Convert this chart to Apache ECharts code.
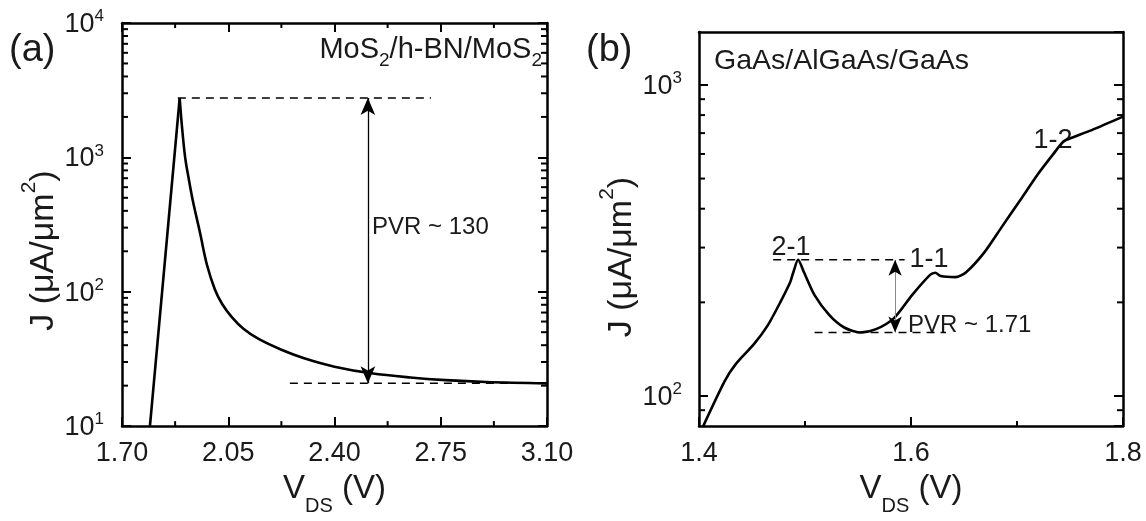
<!DOCTYPE html>
<html>
<head>
<meta charset="utf-8">
<script src="https://cdn.jsdelivr.net/npm/echarts@6/dist/echarts.min.js"></script>
<style>
html,body{margin:0;padding:0;background:#fff;}
#main{width:1146px;height:521px;}
</style>
</head>
<body>
<div id="main"></div>
<script>
// (a) MoS2/h-BN/MoS2 : V_DS (V) vs J (uA/um^2)
var vA = [1.792, 1.890, 1.897, 1.908, 1.920, 1.933, 1.957, 1.980, 2.006, 2.030, 2.061, 2.100, 2.150, 2.225, 2.300, 2.400, 2.522, 2.650, 2.766, 2.900, 3.100];
var jA = [10, 2760, 1750, 1000, 690, 480, 275, 158, 104, 81, 65, 53, 44.5, 37, 32, 27.7, 24.7, 23.0, 22.0, 21.3, 20.8];
var xTicksA = ['1.70', '2.05', '2.40', '2.75', '3.10'];
var xMinorA = [1.875, 2.225, 2.575, 2.925];
var peakA = 2760, valleyA = 20.8;
var peakLineA = [1.884, 2.718];   // x extent of dashed peak line
var valleyLineA = [2.253, 3.10];
var arrowXA = 2.51;

// (b) GaAs/AlGaAs/GaAs
var vB = [1.404, 1.4245, 1.435, 1.452, 1.465, 1.477, 1.486, 1.489, 1.4935, 1.499, 1.509, 1.523, 1.537, 1.552, 1.567, 1.584, 1.601, 1.618, 1.623, 1.628, 1.642, 1.652, 1.669, 1.686, 1.703, 1.720, 1.734, 1.744, 1.751, 1.771, 1.800];
var jB = [80, 112, 127, 147, 169, 201, 232, 250, 274, 250, 211, 182, 166, 160, 164, 178, 211, 245, 249, 243, 241, 250, 289, 351, 426, 518, 598, 659, 675, 717, 791];
var xMinorB = [1.5, 1.7];
var peakB = 274, valleyB = 160;
var peakLineB = [1.470, 1.594];
var valleyLineB = [1.509, 1.633];
var arrowXB = 1.585;

var X0 = 1.70; // panel (a) x axis is drawn from 0 so ticks land on 1.70 + k*0.35
var FONT = '"Liberation Sans", Arial, Helvetica, sans-serif';
var INK = '#1a1a1a';

var chart = echarts.init(document.getElementById('main'));

function pairs(xs, ys, dx, from, to) {
  var out = [];
  for (var i = from; i < to; i++) out.push([xs[i] - dx, ys[i]]);
  return out;
}

// minor ticks 2..9 of each decade inside [lo, hi]
function logMinor(lo, hi) {
  var out = [];
  for (var d = 1; d <= 10000; d *= 10) {
    for (var k = 2; k <= 9; k++) {
      var v = k * d;
      if (v > lo && v < hi) out.push(v);
    }
  }
  return out;
}

function supLabel(v) {
  var e = Math.log(v) / Math.LN10;
  if (Math.abs(e - Math.round(e)) > 1e-6) return '';
  return '{m|10}{s|' + Math.round(e) + '}';
}

var supRich = {
  m: {fontSize: 27, lineHeight: 30, fontFamily: FONT, color: INK, verticalAlign: 'top', padding: [3, 0, 0, 0]},
  s: {fontSize: 17, lineHeight: 17, fontFamily: FONT, color: INK, verticalAlign: 'top'}
};
var yNameRich = {
  m: {fontSize: 34, lineHeight: 36, fontFamily: FONT, color: INK, verticalAlign: 'top', padding: [8, 0, 0, 0]},
  s: {fontSize: 21, lineHeight: 21, fontFamily: FONT, color: INK, verticalAlign: 'top'}
};
var xNameRich = {
  m: {fontSize: 33, lineHeight: 36, fontFamily: FONT, color: INK, verticalAlign: 'top'},
  d: {fontSize: 20, lineHeight: 20, fontFamily: FONT, color: INK, verticalAlign: 'top', padding: [24, 0, 0, 0]}
};

function frameAxis(extra) {
  var base = {
    axisLine: {show: true, onZero: false, lineStyle: {color: '#000', width: 2.5}},
    axisTick: {show: true, inside: true, length: 9, lineStyle: {color: '#000', width: 2}},
    splitLine: {show: false},
    axisLabel: {show: false}
  };
  for (var k in extra) base[k] = extra[k];
  return base;
}

var dashStyle = {color: '#000', width: 1.5, type: [8, 6]};

var option = {
  animation: false,
  backgroundColor: '#fff',
  grid: [
    {left: 122, top: 23, width: 425, height: 404},
    {left: 699, top: 32, width: 424, height: 401}
  ],
  xAxis: [
    frameAxis({
      type: 'value', gridIndex: 0, position: 'bottom', min: 0, max: 1.4, interval: 0.35,
      axisLabel: {show: true, margin: 14, fontSize: 27, fontFamily: FONT, color: INK,
        formatter: function (v) { return xTicksA[Math.round(v / 0.35)]; }},
      name: '{m|V}{d|DS}{m| (V)}', nameLocation: 'middle', nameGap: 34,
      nameTextStyle: {rich: xNameRich}
    }),
    frameAxis({type: 'value', gridIndex: 0, position: 'top', min: 0, max: 1.4, interval: 0.35}),
    frameAxis({
      type: 'value', gridIndex: 1, position: 'bottom', min: 1.4, max: 1.8, interval: 0.2,
      axisLabel: {show: true, margin: 14, fontSize: 27, fontFamily: FONT, color: INK,
        formatter: function (v) { return v.toFixed(1); }},
      name: '{m|V}{d|DS}{m| (V)}', nameLocation: 'middle', nameGap: 35,
      nameTextStyle: {rich: xNameRich}
    }),
    frameAxis({
      type: 'value', gridIndex: 1, position: 'top', min: 1.4, max: 1.8, interval: 0.2,
      axisTick: {show: false}
    })
  ],
  yAxis: [
    frameAxis({
      type: 'log', logBase: 10, gridIndex: 0, position: 'left', min: 10, max: 10000,
      axisLabel: {show: true, margin: 18, formatter: supLabel, rich: supRich},
      name: '{m|J (μA/μm}{s|2}{m|)}', nameLocation: 'middle', nameGap: 50,
      nameTextStyle: {rich: yNameRich, padding: [0, 52, 0, 0]}
    }),
    frameAxis({type: 'log', logBase: 10, gridIndex: 0, position: 'right', min: 10, max: 10000}),
    frameAxis({
      type: 'log', logBase: 10, gridIndex: 1, position: 'left', min: 80, max: 1480,
      axisLabel: {show: true, margin: 17, formatter: supLabel, rich: supRich, showMinLabel: false, showMaxLabel: false},
      name: '{m|J (μA/μm}{s|2}{m|)}', nameLocation: 'middle', nameGap: 52,
      nameTextStyle: {rich: yNameRich, padding: [0, 56, 0, 0]}
    }),
    frameAxis({type: 'log', logBase: 10, gridIndex: 1, position: 'right', min: 80, max: 1480})
  ],
  series: [
    {
      // straight rise up to the peak
      type: 'line', xAxisIndex: 0, yAxisIndex: 0, data: pairs(vA, jA, X0, 0, 2),
      symbol: 'none', z: 3, lineStyle: {color: '#000', width: 2.6}
    },
    {
      // decay after the peak
      type: 'line', xAxisIndex: 0, yAxisIndex: 0, data: pairs(vA, jA, X0, 1, vA.length),
      symbol: 'none', z: 3, smooth: 0.35,
      lineStyle: {color: '#000', width: 2.6}
    },
    {
      type: 'line', xAxisIndex: 0, yAxisIndex: 0, symbol: 'none', z: 2,
      data: [[peakLineA[0] - X0, peakA], [peakLineA[1] - X0, peakA]], lineStyle: dashStyle
    },
    {
      type: 'line', xAxisIndex: 0, yAxisIndex: 0, symbol: 'none', z: 2,
      data: [[valleyLineA[0] - X0, valleyA], [valleyLineA[1] - X0, valleyA]], lineStyle: dashStyle,
      markLine: {
        silent: true, symbol: ['arrow', 'arrow'], symbolSize: [11, 17],
        label: {show: false},
        lineStyle: {color: '#000', width: 1.3, type: 'solid'},
        data: [[{coord: [arrowXA - X0, peakA]}, {coord: [arrowXA - X0, valleyA]}]]
      }
    },
    {
      type: 'line', xAxisIndex: 2, yAxisIndex: 2, data: pairs(vB, jB, 0, 0, vB.length),
      symbol: 'none', z: 3, smooth: 0.25,
      lineStyle: {color: '#000', width: 2.6}
    },
    {
      type: 'line', xAxisIndex: 2, yAxisIndex: 2, symbol: 'none', z: 2,
      data: [[peakLineB[0], peakB], [peakLineB[1], peakB]], lineStyle: dashStyle
    },
    {
      type: 'line', xAxisIndex: 2, yAxisIndex: 2, symbol: 'none', z: 2,
      data: [[valleyLineB[0], valleyB], [valleyLineB[1], valleyB]], lineStyle: dashStyle,
      markLine: {
        silent: true, symbolSize: [10, 16],
        label: {show: false},
        data: [
          // thin grey shaft
          [{coord: [arrowXB, peakB], symbol: 'none', lineStyle: {color: '#8a8a8a', width: 1, type: 'solid'}},
           {coord: [arrowXB, valleyB], symbol: 'none'}],
          // black heads only
          [{coord: [arrowXB, peakB], symbol: 'arrow', lineStyle: {color: '#000', width: 0, type: 'solid'}},
           {coord: [arrowXB, valleyB], symbol: 'arrow'}]
        ]
      }
    }
  ],
  graphic: [
    {type: 'text', x: 9, y: 51, style: {text: '(a)', font: '38px ' + FONT, fill: INK, align: 'left', verticalAlign: 'middle'}},
    {type: 'text', x: 586, y: 51, style: {text: '(b)', font: '38px ' + FONT, fill: INK, align: 'left', verticalAlign: 'middle'}},
    {type: 'text', x: 542, y: 35, style: {
      text: '{m|MoS}{s|2}{m|/h-BN/MoS}{s|2}', align: 'right', verticalAlign: 'top',
      rich: {
        m: {fontSize: 29, lineHeight: 31, fontFamily: FONT, fill: INK, verticalAlign: 'top'},
        s: {fontSize: 19, lineHeight: 19, fontFamily: FONT, fill: INK, verticalAlign: 'top', padding: [16, 0, 0, 0]}
      }
    }},
    {type: 'text', x: 714, y: 61, style: {text: 'GaAs/AlGaAs/GaAs', font: '28.5px ' + FONT, fill: INK, align: 'left', verticalAlign: 'middle'}},
    {type: 'text', x: 372, y: 227, style: {text: 'PVR ~ 130', font: '24px ' + FONT, fill: INK, align: 'left', verticalAlign: 'middle'}},
    {type: 'text', x: 908, y: 325, style: {text: 'PVR ~ 1.71', font: '24px ' + FONT, fill: INK, align: 'left', verticalAlign: 'middle'}},
    {type: 'text', x: 791, y: 248, style: {text: '2-1', font: '27px ' + FONT, fill: INK, align: 'center', verticalAlign: 'middle'}},
    {type: 'text', x: 929, y: 260, style: {text: '1-1', font: '27px ' + FONT, fill: INK, align: 'center', verticalAlign: 'middle'}},
    {type: 'text', x: 1053, y: 141, style: {text: '1-2', font: '27px ' + FONT, fill: INK, align: 'center', verticalAlign: 'middle'}}
  ]
};

chart.setOption(option);

// minor ticks, placed through the axes' own scales once the layout exists
var tickEls = [];
function tick(xi, yi, x, y, dx, dy) {
  var p = chart.convertToPixel({xAxisIndex: xi, yAxisIndex: yi}, [x, y]);
  if (!p) return;
  tickEls.push({
    type: 'line', silent: true, z: 50,
    shape: {x1: p[0], y1: p[1], x2: p[0] + dx, y2: p[1] + dy},
    style: {stroke: '#000', lineWidth: 2}
  });
}
logMinor(10, 10000).forEach(function (v) { tick(0, 0, 0, v, 6, 0); tick(0, 0, 1.4, v, -6, 0); });
logMinor(80, 1480).forEach(function (v) { tick(2, 2, 1.4, v, 6, 0); tick(2, 2, 1.8, v, -6, 0); });
xMinorA.forEach(function (x) { tick(0, 0, x - X0, 10, 0, -5); tick(0, 0, x - X0, 10000, 0, 5); });
xMinorB.forEach(function (x) { tick(2, 2, x, 80, 0, -5); });
chart.setOption({graphic: option.graphic.concat(tickEls)});
</script>
</body>
</html>
